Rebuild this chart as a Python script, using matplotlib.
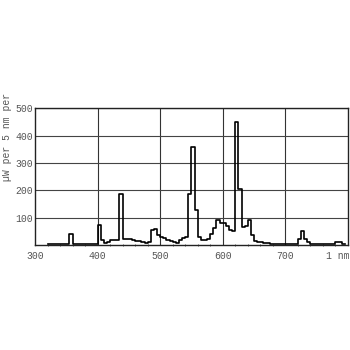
import matplotlib
matplotlib.use('Agg')
import matplotlib.pyplot as plt
import numpy as np

# 5 nm bins, value at the bin start (nm)
wavelength = np.arange(320, 795, 5)
power = [3, 3, 3, 3, 3, 3, 3, 42, 3, 3,
         3, 3, 3, 3, 3, 3, 72, 18, 6, 12,
         18, 18, 18, 186, 22, 22, 22, 18, 16, 14,
         12, 6, 10, 55, 58, 35, 30, 25, 20, 15,
         10, 8, 18, 25, 30, 186, 358, 128, 30, 20,
         18, 22, 40, 62, 90, 82, 80, 68, 55, 50,
         450, 205, 65, 70, 90, 35, 15, 12, 12, 8,
         8, 5, 3, 3, 3, 5, 3, 3, 3, 3,
         22, 50, 22, 10, 3, 3, 3, 3, 3, 3,
         3, 3, 12, 12, 3]

x_ticks = [300, 400, 500, 600, 700, 783]
x_labels = ['300', '400', '500', '600', '700', '1 nm']
y_ticks = [100, 200, 300, 400, 500]

fig = plt.figure(figsize=(3.5, 3.5), dpi=100)
ax = fig.add_axes([0.1, 0.3, 0.894, 0.391])

edges = np.append(wavelength, wavelength[-1] + 5)
vals = np.append(power, power[-1])
ax.step(edges, vals, where='post', color='black', linewidth=1.2)

ax.set_xlim(300, 800)
ax.set_ylim(0, 500)
ax.set_xticks(x_ticks)
ax.set_xticklabels(x_labels)
ax.set_yticks(y_ticks)
ax.set_xticks(np.arange(300, 800, 20), minor=True)
ax.tick_params(axis='both', which='major', length=0,
               labelsize=7, labelcolor='#555555')
ax.tick_params(axis='y', which='major', pad=1.5)
ax.tick_params(axis='x', which='major', pad=4)
ax.tick_params(axis='x', which='minor', length=2, direction='inout', color='#444444')
for lab in ax.get_xticklabels() + ax.get_yticklabels():
    lab.set_family('Liberation Mono')

for v in [400, 500, 600, 700]:
    ax.axvline(v, color='#333333', linewidth=0.8, zorder=0)
for v in y_ticks:
    ax.axhline(v, color='#444444', linewidth=0.8, zorder=0)

for s in ax.spines.values():
    s.set_color('#222222')
    s.set_linewidth(1.0)

fig.text(7 / 350, 1 - 137 / 350, 'µW per 5 nm per', rotation=90,
         ha='center', va='center', fontsize=7, color='#555555',
         family='Liberation Mono')

fig.savefig('out.png', dpi=100)
